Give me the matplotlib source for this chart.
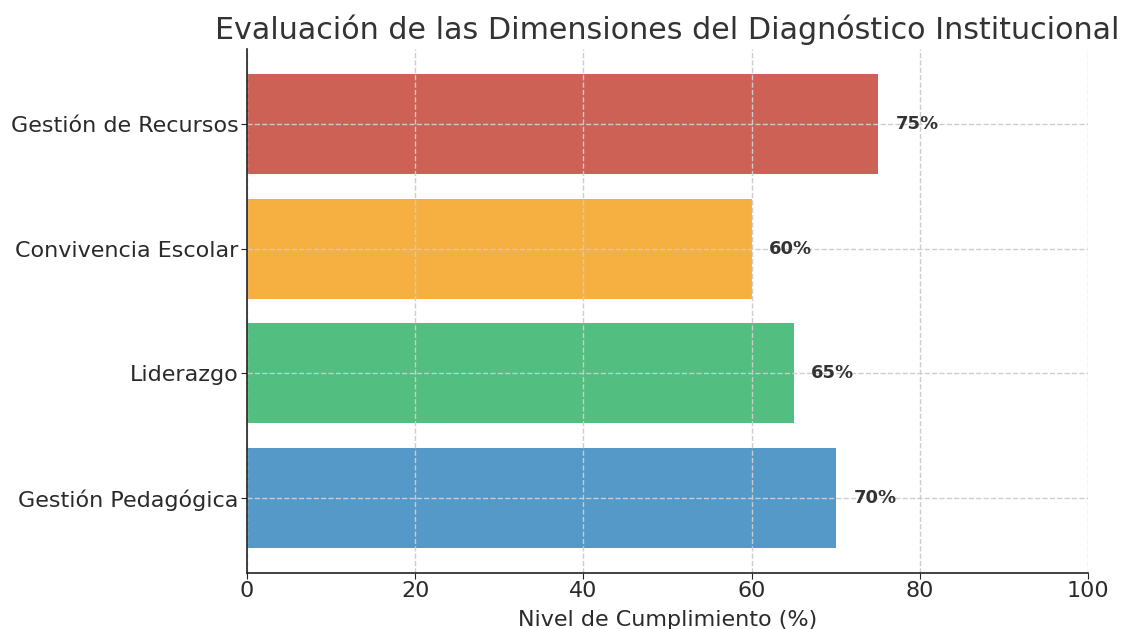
import matplotlib
matplotlib.use("Agg")
import matplotlib.pyplot as plt

categories = ["Gestión Pedagógica", "Liderazgo", "Convivencia Escolar", "Gestión de Recursos"]
values = [70, 65, 60, 75]
colors = ["#5499C7", "#52BE80", "#F5B041", "#CD6155"]
xticks = [0, 20, 40, 60, 80, 100]

fig = plt.figure(figsize=(11.23, 6.29), dpi=100)
ax = fig.add_axes([247/1123, (629-573)/629, (1088-247)/1123, (573-49)/629])

ax.barh(categories, values, color=colors, height=0.8)
for i, v in enumerate(values):
    ax.text(v + 2.1, i, f"{v}%", va="center", ha="left", fontsize=13,
            fontweight="bold", color="#333333")

ax.set_xlim(0, 100)
ax.set_ylim(-0.6, 3.6)
ax.set_xticks(xticks)
ax.tick_params(axis="both", labelsize=16, colors="#222222", labelcolor="#2a2a2a", length=4)
ax.tick_params(axis="y", pad=2)
ax.tick_params(axis="x", pad=2)
ax.grid(True, linestyle="--", color="#cccccc", linewidth=1)
for s in ["top", "right"]:
    ax.spines[s].set_visible(False)
for s in ["left", "bottom"]:
    ax.spines[s].set_color("#222222")
    ax.spines[s].set_linewidth(1.2)

ax.set_xlabel("Nivel de Cumplimiento (%)", fontsize=16, color="#2a2a2a", labelpad=6)
ax.set_title("Evaluación de las Dimensiones del Diagnóstico Institucional",
             fontsize=21.7, color="#333333", pad=7)

fig.savefig("out.png", dpi=100)
